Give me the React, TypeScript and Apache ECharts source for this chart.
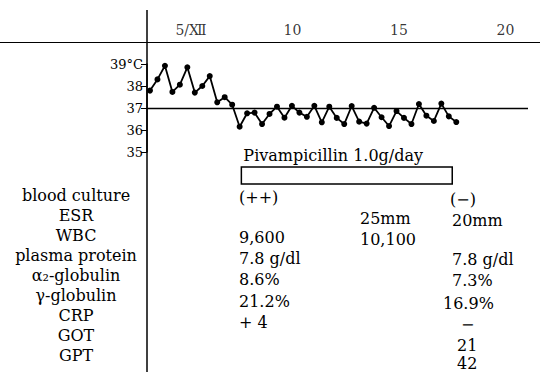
import React, { useEffect, useRef } from "react";
import * as echarts from "echarts";

// ---- data ----
const temperatures = [
  37.79, 38.3, 38.92, 37.73, 38.06, 38.85, 37.7, 38.0, 38.45, 37.26, 37.49, 37.15,
  36.15, 36.76, 36.79, 36.27, 36.73, 37.06, 36.56, 37.1, 36.79, 36.6, 37.1, 36.35,
  37.06, 36.55, 36.27, 37.09, 36.38, 36.29, 37.01, 36.58, 36.18, 36.86, 36.55, 36.27,
  37.18, 36.65, 36.41, 37.2, 36.62, 36.36,
];
const tempTicks = [35, 36, 37, 38, 39];
const tempTickLabels = ["35", "36", "37", "38", "39°C"];
const normalTemp = 37;
const dayTicks = [5, 10, 15, 20];
const dayLabels = ["5/Ⅻ", "10", "15", "20"];
const drugLabel = "Pivampicillin 1.0g/day";
const drugPeriod = [7.6, 17.5];
const rowLabels = [
  "blood culture", "ESR", "WBC", "plasma protein", "α₂-globulin",
  "γ-globulin", "CRP", "GOT", "GPT",
];
const colA = ["(++)", "", "9,600", "7.8 g/dl", "8.6%", "21.2%", "+ 4", "", ""];
const colB = ["", "25mm", "10,100", "", "", "", "", "", ""];
const colC = ["(−)", "20mm", "", "7.8 g/dl", "7.3%", "16.9%", "−", "21", "42"];

// ---- layout (positions / styles) ----
const FONT = '"DejaVu Serif", "Noto Sans CJK JP", serif';
const rowLabelY = [195, 215, 235, 255, 275, 295, 315, 335, 355];
const colAY = [197, 217, 237, 258, 279, 301, 322, 0, 0];
const colBY = [0, 218, 239, 0, 0, 0, 0, 0, 0];
const colCY = [199, 220, 0, 259, 280, 303, 324, 345, 363];
const colCX = [450, 452, 452, 452, 452, 443, 461, 457, 457];

export default function App() {
  const ref = useRef<HTMLDivElement>(null);
  useEffect(() => {
    if (!ref.current) return;
    const chart = echarts.init(ref.current, undefined, { renderer: "svg" });

    const mkText = (t: string, x: number, y: number, align: string) => ({
      type: "text", x, y, z: 10,
      style: { text: t, fill: "#000", fontSize: 16, fontFamily: FONT, textAlign: align, textVerticalAlign: "middle", verticalAlign: "middle" },
    });
    const texts: any[] = [];
    rowLabels.forEach((t, i) => texts.push(mkText(t, 76, rowLabelY[i], "center")));
    colA.forEach((t, i) => { if (t) texts.push(mkText(t, 239, colAY[i], "left")); });
    colB.forEach((t, i) => { if (t) texts.push(mkText(t, 360, colBY[i], "left")); });
    colC.forEach((t, i) => { if (t) texts.push(mkText(t, colCX[i], colCY[i], "left")); });

    const option: any = {
      animation: false,
      backgroundColor: "#fff",
      grid: [
        { left: 147, top: 64, width: 381, height: 88 },
        { left: 147, top: 20, width: 393, height: 20 },
        { left: 147, top: 167, width: 393, height: 17 },
      ],
      xAxis: [
        { gridIndex: 0, type: "value", min: -0.4, max: 50.6, show: false },
        { gridIndex: 1, type: "value", min: 3.17, max: 21.62, show: false },
        { gridIndex: 2, type: "value", min: 3.17, max: 21.62, show: false },
      ],
      yAxis: [
        {
          gridIndex: 0, type: "value", min: 35, max: 39, interval: 1,
          splitLine: { show: false },
          axisLine: { show: true, onZero: false, lineStyle: { color: "#000", width: 1.5 } },
          axisTick: { show: true, length: 6, lineStyle: { color: "#000", width: 1 } },
          axisLabel: {
            color: "#000", fontSize: 13, fontFamily: FONT, margin: 4,
            formatter: (v: number) => tempTickLabels[tempTicks.indexOf(v)] ?? "",
          },
        },
        { gridIndex: 1, type: "value", min: 0, max: 1, show: false },
        { gridIndex: 2, type: "value", min: 0, max: 1, show: false },
      ],
      series: [
        {
          type: "line", xAxisIndex: 0, yAxisIndex: 0,
          data: temperatures.map((t, i) => [i, t]),
          symbol: "circle", symbolSize: 6,
          itemStyle: { color: "#000" },
          lineStyle: { color: "#000", width: 1.8 },
          markLine: {
            silent: true, symbol: "none", label: { show: false },
            lineStyle: { color: "#000", width: 1.3, type: "solid" },
            data: [{ yAxis: normalTemp }],
          },
        },
        {
          type: "scatter", xAxisIndex: 1, yAxisIndex: 1,
          data: dayTicks.map((d) => [d, 0.5]),
          symbolSize: 1, itemStyle: { color: "rgba(0,0,0,0)" },
          label: {
            show: true, position: "inside", color: "#000", fontSize: 14, fontFamily: FONT,
            formatter: (p: any) => dayLabels[p.dataIndex],
          },
          labelLayout: (p: any) => (p.dataIndex === 0 ? { dx: 5 } : {}),
        },
        {
          type: "custom", xAxisIndex: 2, yAxisIndex: 2,
          data: [drugPeriod],
          renderItem: (params: any, api: any) => {
            const s = api.coord([api.value(0), 0]);
            const e = api.coord([api.value(1), 1]);
            return {
              type: "group",
              children: [
                {
                  type: "rect",
                  shape: { x: s[0], y: e[1], width: e[0] - s[0], height: s[1] - e[1] },
                  style: { fill: "#fff", stroke: "#000", lineWidth: 1.5 },
                },
                {
                  type: "text", x: s[0] + 2, y: e[1] - 12,
                  style: { text: drugLabel, fill: "#000", fontSize: 16, fontFamily: FONT, textAlign: "left", textVerticalAlign: "middle", verticalAlign: "middle" },
                },
              ],
            };
          },
        },
      ],
      graphic: [
        { type: "line", z: 20, shape: { x1: 147, y1: 10, x2: 147, y2: 372 }, style: { stroke: "#000", lineWidth: 1.5 } },
        { type: "line", z: 20, shape: { x1: 0, y1: 42.5, x2: 540, y2: 42.5 }, style: { stroke: "#000", lineWidth: 1.2 } },
        ...texts,
      ],
    };
    chart.setOption(option);
    return () => chart.dispose();
  }, []);
  return (
    <div
      ref={ref}
      style={{ position: "absolute", left: 0, top: 0, width: 540, height: 372, background: "#fff" }}
    />
  );
}
